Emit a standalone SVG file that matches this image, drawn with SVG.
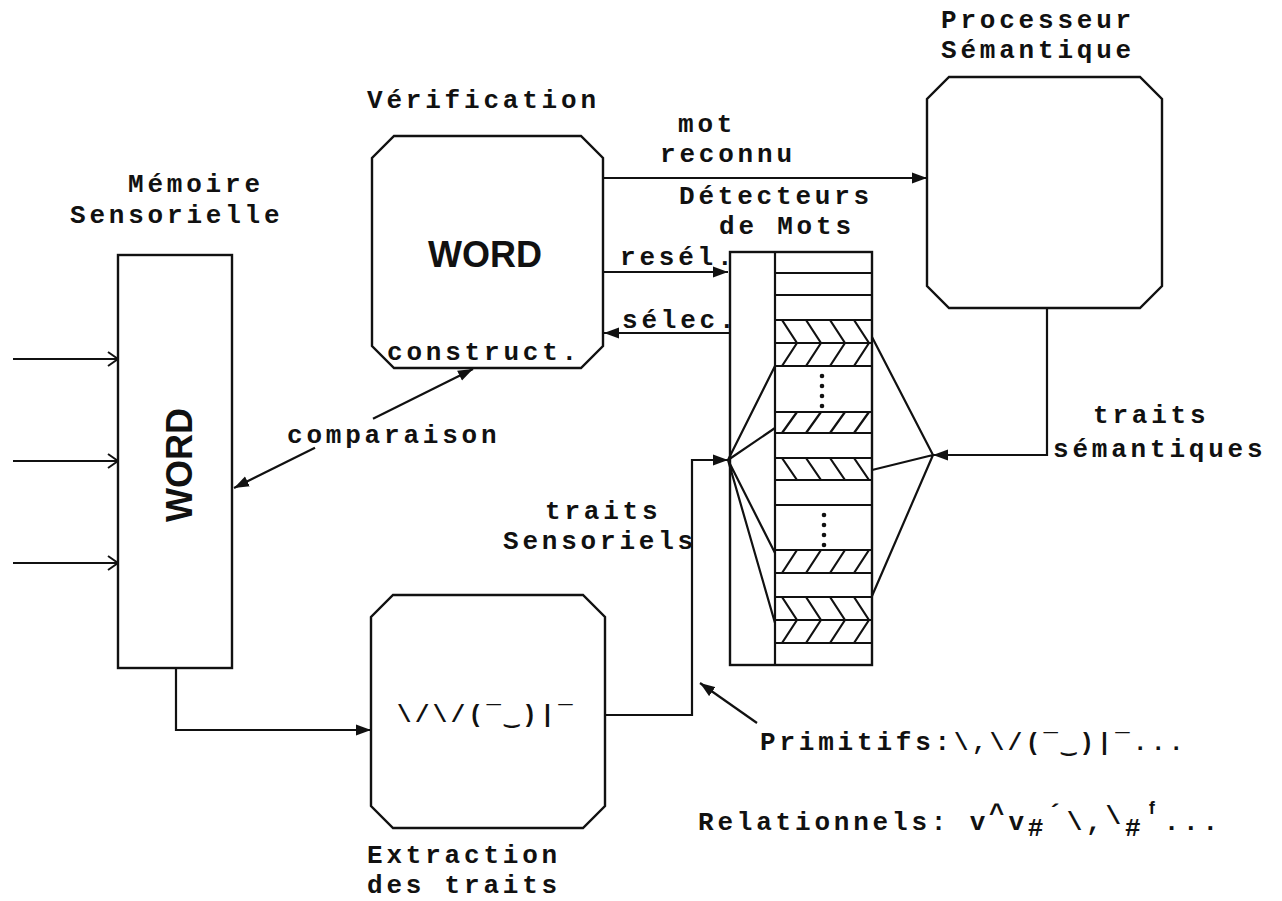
<svg xmlns="http://www.w3.org/2000/svg" width="1282" height="901" viewBox="0 0 1282 901">
<style>
.t{font-family:"Liberation Mono","DejaVu Sans Mono",monospace;font-weight:bold;font-size:26px;letter-spacing:3.8px;fill:#111}
.g{font-family:"Liberation Mono","DejaVu Sans Mono",monospace;font-weight:bold;font-size:24px;letter-spacing:3.5px;fill:#111}
.w{font-family:"Liberation Sans",Arial,sans-serif;font-weight:bold;font-size:36px;fill:#111}
.ln{stroke:#111;stroke-width:2.2;fill:none}
.box{stroke:#111;stroke-width:2.4;fill:#fff}
.hat{stroke:#111;stroke-width:2.2;fill:none}
</style>
<defs>
<marker id="ah" markerUnits="userSpaceOnUse" markerWidth="16" markerHeight="12" refX="15" refY="6" orient="auto">
<path d="M0,0.5 L15,6 L0,11.5 z" fill="#111"/>
</marker>
<marker id="oa" markerUnits="userSpaceOnUse" markerWidth="14" markerHeight="16" refX="12" refY="8" orient="auto">
<path d="M2,1 L12,8 L2,15" fill="none" stroke="#111" stroke-width="2"/>
</marker>
</defs>
<rect width="1282" height="901" fill="#fff"/>

<g id="connectors">
<path class="ln" d="M13 359 H118" marker-end="url(#oa)"/>
<path class="ln" d="M13 461 H118" marker-end="url(#oa)"/>
<path class="ln" d="M13 563 H118" marker-end="url(#oa)"/>
<path class="ln" d="M176 668 V730 H371" marker-end="url(#ah)"/>
<path class="ln" d="M315 447.7 L234 488" marker-end="url(#ah)"/>
<path class="ln" d="M373 418.8 L473 369" marker-end="url(#ah)"/>
<path class="ln" d="M605 715 H692 V460 H728" marker-end="url(#ah)"/>
<path class="ln" d="M603 178 H927" marker-end="url(#ah)"/>
<path class="ln" d="M603 272 H728" marker-end="url(#ah)"/>
<path class="ln" d="M730 333 H604" marker-end="url(#ah)"/>
<path class="ln" d="M1047 308 V455 H933" marker-end="url(#ah)"/>
<path class="ln" d="M757 723 L700 683" marker-end="url(#ah)"/>
<path class="ln" d="M728 460 L775 366 M728 460 L775 428 M728 460 L775 553 M728 460 L775 623"/>
<path class="ln" d="M933 455 L872 337 M933 455 L872 470 M933 455 L872 596"/>
</g>

<g id="memoire">
<rect class="box" x="118" y="255" width="114" height="413"/>
<text class="w" text-anchor="middle" font-size="35" transform="translate(192 465) rotate(-90)">WORD</text>
<text class="t" x="128" y="192">Mémoire</text>
<text class="t" x="70" y="223">Sensorielle</text>
</g>

<g id="verification">
<path class="box" d="M394 136 H581 L603 158 V346 L581 368 H394 L372 346 V158 Z"/>
<text class="w" x="485" y="267" text-anchor="middle">WORD</text>
<text class="t" x="387" y="360">construct.</text>
<text class="t" x="367" y="108">Vérification</text>
</g>

<g id="processeur">
<path class="box" d="M949 77 H1140 L1162 99 V286 L1140 308 H949 L927 286 V99 Z"/>
<text class="t" x="941" y="28">Processeur</text>
<text class="t" x="941" y="58">Sémantique</text>
</g>

<g id="extraction">
<path class="box" d="M393 595 H583 L605 617 V806 L583 828 H393 L371 806 V617 Z"/>
<text class="g" x="397" y="722">\/\/(¯‿)|¯</text>
<text class="t" x="367" y="863">Extraction</text>
<text class="t" x="367" y="893">des traits</text>
</g>

<g id="detecteurs">
<rect x="730" y="252" width="142" height="413" fill="none" stroke="#111" stroke-width="2.4"/>
<path class="ln" d="M775 252 V665"/>
<path class="ln" d="M775 273 H872 M775 295 H872 M775 320 H872 M775 343 H872 M775 366 H872 M775 412 H872 M775 433 H872 M775 458 H872 M775 480 H872 M775 505 H872 M775 550 H872 M775 573 H872 M775 597 H872 M775 620 H872 M775 643 H872"/>
<path class="hat" d="M782 320 L797 343 M806 320 L821 343 M830 320 L845 343 M854 320 L869 343"/>
<path class="hat" d="M782 366 L797 343 M806 366 L821 343 M830 366 L845 343 M854 366 L869 343"/>
<path class="hat" d="M782 433 L797 412 M806 433 L821 412 M830 433 L845 412 M854 433 L869 412"/>
<path class="hat" d="M782 458 L797 480 M806 458 L821 480 M830 458 L845 480 M854 458 L869 480"/>
<path class="hat" d="M782 573 L797 550 M806 573 L821 550 M830 573 L845 550 M854 573 L869 550"/>
<path class="hat" d="M782 597 L797 620 M806 597 L821 620 M830 597 L845 620 M854 597 L869 620"/>
<path class="hat" d="M782 643 L797 620 M806 643 L821 620 M830 643 L845 620 M854 643 L869 620"/>
<g fill="#111">
<circle cx="822" cy="376" r="2.3"/><circle cx="822" cy="386" r="2.3"/><circle cx="822" cy="396" r="2.3"/><circle cx="822" cy="406" r="2.3"/>
<circle cx="824" cy="515" r="2.3"/><circle cx="824" cy="525" r="2.3"/><circle cx="824" cy="535" r="2.3"/><circle cx="824" cy="545" r="2.3"/>
</g>
<text class="t" x="679" y="204">Détecteurs</text>
<text class="t" x="719" y="234">de Mots</text>
</g>

<g id="labels">
<text class="t" x="678" y="132">mot</text>
<text class="t" x="660" y="162">reconnu</text>
<text class="t" x="620" y="265">resél.</text>
<text class="t" x="622" y="328">sélec.</text>
<text class="t" x="287" y="443">comparaison</text>
<text class="t" x="1093" y="423">traits</text>
<text class="t" x="1053" y="457">sémantiques</text>
<text class="t" x="545" y="519">traits</text>
<text class="t" x="503" y="549">Sensoriels</text>
<text class="t" x="760" y="750">Primitifs:<tspan class="g">\,\/(¯‿)|¯...</tspan></text>
<text class="t" x="698" y="830">Relationnels:<tspan> v</tspan><tspan dy="-8">^</tspan><tspan dy="8">v</tspan><tspan dy="6">#</tspan><tspan dy="-14">´</tspan><tspan dy="8">\,</tspan><tspan dy="-6">\</tspan><tspan dy="12">#</tspan><tspan dy="-16">ᶠ</tspan><tspan dy="10">...</tspan></text>
</g>
</svg>
